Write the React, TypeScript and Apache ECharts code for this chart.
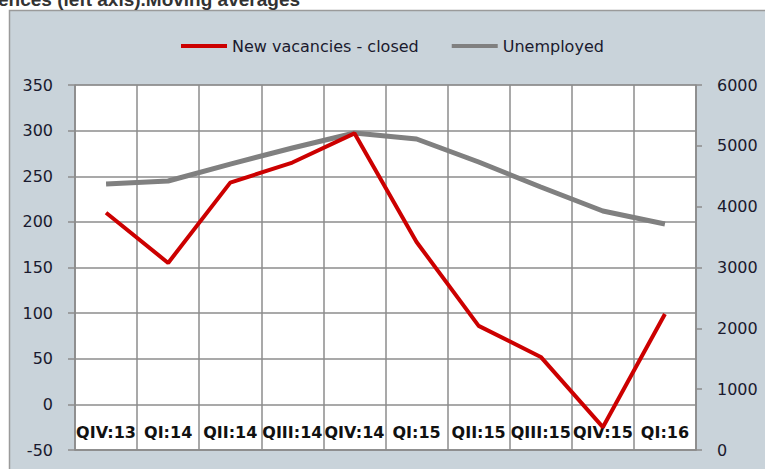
import React, { useEffect, useRef } from "react";
import * as echarts from "echarts";

const categories = ["QIV:13", "QI:14", "QII:14", "QIII:14", "QIV:14", "QI:15", "QII:15", "QIII:15", "QIV:15", "QI:16"];
const vacanciesClosed = [210, 155, 243, 265, 297, 178, 86, 52, -25, 99];
const unemployed = [4373, 4422, 4700, 4965, 5211, 5112, 4734, 4323, 3929, 3715];
const titleText = "ences (left axis).Moving averages";

const FONT = "DejaVu Sans";

export default function App() {
  const ref = useRef<HTMLDivElement>(null);
  useEffect(() => {
    if (!ref.current) return;
    const chart = echarts.init(ref.current, undefined, { renderer: "svg" });
    chart.setOption({
      animation: false,
      backgroundColor: "#ffffff",
      graphic: [
        {
          type: "rect",
          z: -10,
          silent: true,
          shape: { x: 9.5, y: 10.5, width: 800, height: 500 },
          style: { fill: "#c9d3da", stroke: "#9a9a9a", lineWidth: 1.5 },
        },
        {
          type: "text",
          z: 10,
          style: {
            x: -2,
            y: 9,
            text: titleText,
            verticalAlign: "bottom",
            font: "bold 19px 'Liberation Sans'",
            fill: "#333333",
          },
        },
      ],
      legend: {
        left: 176,
        top: 33,
        icon: "rect",
        itemWidth: 46,
        itemHeight: 4,
        itemGap: 33,
        textStyle: { fontFamily: FONT, fontSize: 16, color: "#1a1a2e" },
        data: ["New vacancies - closed", "Unemployed"],
      },
      grid: {
        left: 75,
        right: 69,
        top: 85,
        bottom: 19,
        show: true,
        backgroundColor: "#ffffff",
        borderColor: "#8c8c8c",
        borderWidth: 1,
      },
      xAxis: {
        type: "category",
        data: categories,
        boundaryGap: true,
        axisLine: { onZero: false, lineStyle: { color: "#8c8c8c", width: 1.5 } },
        axisTick: { show: false },
        splitLine: { show: true, lineStyle: { color: "#8c8c8c", width: 1.5 } },
        axisLabel: {
          inside: true,
          margin: 10,
          interval: 0,
          fontFamily: FONT,
          fontSize: 16,
          fontWeight: "bold",
          color: "#111111",
        },
      },
      yAxis: [
        {
          type: "value",
          min: -50,
          max: 350,
          interval: 50,
          position: "left",
          axisLine: { show: true, lineStyle: { color: "#8c8c8c", width: 1.5 } },
          axisTick: { show: true, length: 7, lineStyle: { color: "#8c8c8c", width: 1.5 } },
          splitLine: { show: true, lineStyle: { color: "#8c8c8c", width: 1.5 } },
          axisLabel: { margin: 22, fontFamily: FONT, fontSize: 16, color: "#1a1a2e" },
        },
        {
          type: "value",
          min: 0,
          max: 6000,
          interval: 1000,
          position: "right",
          axisLine: { show: true, lineStyle: { color: "#8c8c8c", width: 1.5 } },
          axisTick: { show: true, length: 6, lineStyle: { color: "#8c8c8c", width: 1.5 } },
          splitLine: { show: false },
          axisLabel: {
            margin: 21,
            fontFamily: FONT,
            fontSize: 16,
            color: "#1a1a2e",
            formatter: (v: number) => String(v),
          },
        },
      ],
      series: [
        {
          name: "Unemployed",
          type: "line",
          yAxisIndex: 1,
          data: unemployed,
          showSymbol: false,
          symbol: "none",
          z: 3,
          lineStyle: { color: "#808080", width: 5 },
          itemStyle: { color: "#808080" },
        },
        {
          name: "New vacancies - closed",
          type: "line",
          yAxisIndex: 0,
          data: vacanciesClosed,
          showSymbol: false,
          symbol: "none",
          z: 4,
          lineStyle: { color: "#cc0000", width: 4 },
          itemStyle: { color: "#cc0000" },
        },
      ],
    });
    return () => chart.dispose();
  }, []);
  return (
    <div
      ref={ref}
      style={{ position: "fixed", left: 0, top: 0, width: 765, height: 469 }}
    />
  );
}
